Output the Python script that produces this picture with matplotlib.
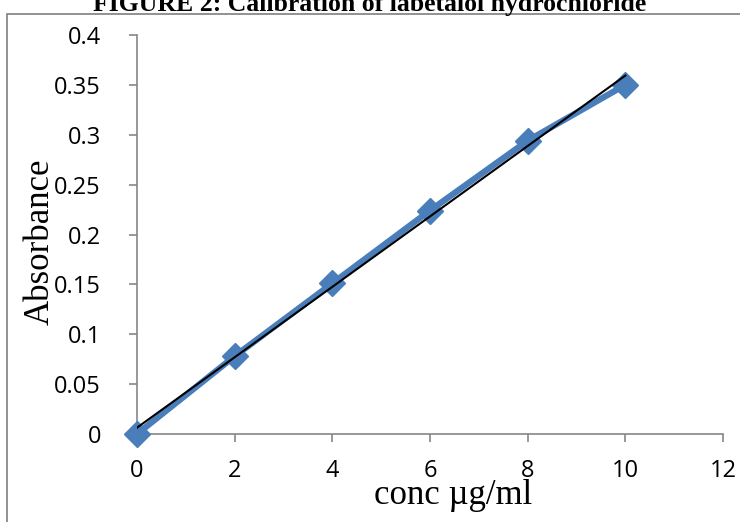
"""Courbe d'étalonnage du chlorhydrate de labétalol (absorbance vs concentration)."""

import matplotlib
matplotlib.use("Agg")
import matplotlib.pyplot as plt
import numpy as np
from matplotlib.patches import Rectangle

# Données
concentration = [0, 2, 4, 6, 8, 10]
absorbance = [0.0, 0.078, 0.151, 0.224, 0.294, 0.350]
xticks = [0, 2, 4, 6, 8, 10, 12]
yticks = [0, 0.05, 0.1, 0.15, 0.2, 0.25, 0.3, 0.35, 0.4]
ytick_labels = ["0", "0.05", "0.1", "0.15", "0.2", "0.25", "0.3", "0.35", "0.4"]

W, H = 740, 522
fig = plt.figure(figsize=(W / 100, H / 100), dpi=100)

# cadre gris autour du graphique
fig.patches.append(Rectangle((7 / W, -0.05), 1.0, 1 - 14 / H + 0.05,
                             transform=fig.transFigure, fill=False,
                             edgecolor="#7f7f7f", linewidth=1.2))

# titre coupé en haut de l'image
fig.text(0.5, 1 - 11 / H, "FIGURE 2: Calibration of labetalol hydrochloride",
         ha="center", va="baseline", fontsize=18.5, fontweight="bold",
         family="Liberation Serif")

ax = fig.add_axes([137 / W, 1 - 434 / H, (723 - 137) / W, (434 - 35) / H])
ax.set_xlim(0, 12)
ax.set_ylim(0, 0.4)

# série mesurée
ax.plot(concentration, absorbance, color="#4a7ebb", linewidth=4.5,
        marker="D", markersize=13, markeredgecolor="#4a7ebb", zorder=3,
        clip_on=False)

# droite de tendance (régression linéaire)
pente, ordonnee = np.polyfit(concentration, absorbance, 1)
xx = np.array([0, 10])
ax.plot(xx, pente * xx + ordonnee, color="black", linewidth=1.5, zorder=4)

grey = "#868686"
for s in ["top", "right"]:
    ax.spines[s].set_visible(False)
for s in ["left", "bottom"]:
    ax.spines[s].set_color(grey)
    ax.spines[s].set_linewidth(1.2)

ax.set_xticks(xticks)
ax.set_yticks(yticks)
ax.set_yticklabels(ytick_labels)
ax.tick_params(axis="both", colors=grey, length=6, width=1.2,
               labelcolor="black", labelsize=17)
ax.tick_params(axis="x", pad=12)
ax.tick_params(axis="y", pad=20)
for lab in ax.get_xticklabels() + ax.get_yticklabels():
    lab.set_family(["Liberation Sans Narrow", "Open Sans"])

fig.text(453 / W, 1 - 495 / H, "conc µg/ml", ha="center", va="center",
         fontsize=25, family="Liberation Serif")
fig.text(40 / W, 1 - 242 / H, "Absorbance", ha="center", va="center",
         rotation=90, fontsize=25, family="Liberation Serif")

fig.savefig("out.png", dpi=100)
